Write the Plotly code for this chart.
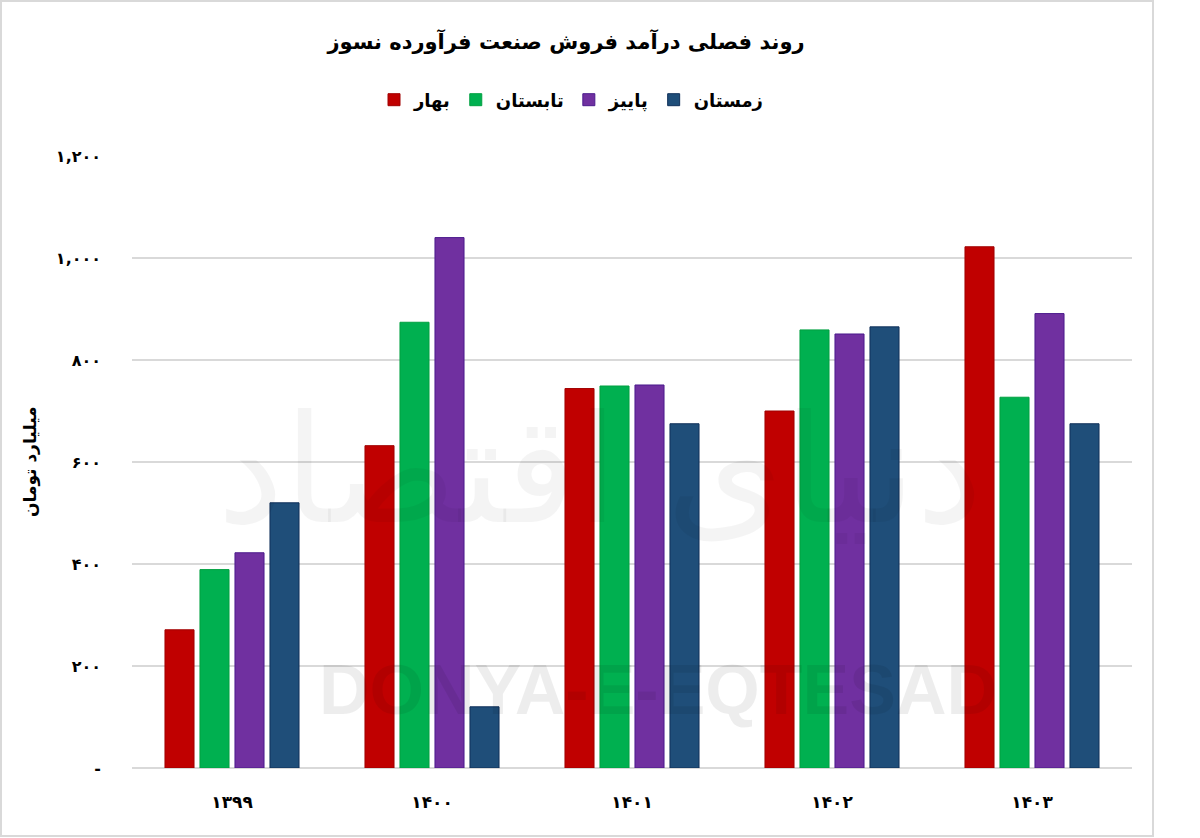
import plotly.graph_objects as go

# ---- data ----
categories = ["۱۳۹۹", "۱۴۰۰", "۱۴۰۱", "۱۴۰۲", "۱۴۰۳"]
spring = [271, 632, 744, 700, 1022]   # بهار
summer = [389, 874, 749, 859, 727]    # تابستان
autumn = [422, 1040, 751, 851, 891]   # پاییز
winter = [520, 120, 675, 865, 675]    # زمستان
series_names = ["بهار", "تابستان", "پاییز", "زمستان"]
tick_vals = [0, 200, 400, 600, 800, 1000, 1200]
tick_text = ["-", "۲۰۰", "۴۰۰", "۶۰۰", "۸۰۰", "۱,۰۰۰", "۱,۲۰۰"]

title_text = "روند فصلی درآمد فروش صنعت فرآورده نسوز"
y_title = "میلیارد تومان"

colors = ["#C00000", "#00B050", "#7030A0", "#1F4E79"]
edge = ["#A00000", "#00A040", "#4B1A8C", "#10305A"]

FONT = "DejaVu Sans"

fig = go.Figure()
for name, vals, c, e in zip(series_names, [spring, summer, autumn, winter], colors, edge):
    fig.add_trace(go.Bar(
        x=categories, y=vals, name=name,
        marker=dict(color=c, line=dict(color=e, width=1)),
    ))

ML, MR, MT, MB = 132, 68, 156, 70
W, H = 1200, 838
pw, ph = W - ML - MR, H - MT - MB

def px_to_paper_x(px):
    return (px - ML) / pw

def px_to_paper_y(py):
    return (H - MB - py) / ph

fig.update_layout(
    width=W, height=H,
    margin=dict(l=ML, r=MR, t=MT, b=MB),
    paper_bgcolor="white", plot_bgcolor="white",
    barmode="group", bargap=0.3, bargroupgap=0.17,
    font=dict(family=FONT, color="#000000"),
    title=dict(text="<b>" + title_text + "</b>", x=566 / W, xanchor="center",
               xref="container",
               y=1 - 42 / H, yanchor="middle", yref="container",
               font=dict(size=21, family=FONT, color="#000")),
    legend=dict(orientation="h", x=571 / W, xanchor="center", xref="container",
                y=1 - 100 / H, yanchor="middle", yref="container",
                font=dict(size=18, family=FONT, color="#000", weight="bold"),
                itemwidth=30, traceorder="normal"),
    showlegend=True,
    xaxis=dict(showgrid=False, showline=False, zeroline=False,
               tickfont=dict(size=17, family=FONT, color="#000", weight="bold"),
               ticklabelstandoff=22, ticks=""),
    yaxis=dict(range=[0, 1200], tickvals=tick_vals, ticktext=tick_text,
               showgrid=True, gridcolor="#D9D9D9", gridwidth=2,
               zeroline=True, zerolinecolor="#D9D9D9", zerolinewidth=2,
               showline=False, ticks="",
               tickfont=dict(size=16, family=FONT, color="#000", weight="bold"),
               ticklabelstandoff=30),
)

# y-axis title
fig.add_annotation(text="<b>" + y_title + "</b>", xref="paper", yref="paper",
                   x=px_to_paper_x(30), y=px_to_paper_y(462), textangle=-90,
                   showarrow=False, font=dict(size=17, family=FONT, color="#000"),
                   xanchor="center", yanchor="middle")

# watermark
fig.add_annotation(text="<b>DONYA-E-EQTESAD</b>", xref="paper", yref="paper",
                   x=px_to_paper_x(658), y=px_to_paper_y(690), showarrow=False,
                   font=dict(size=70, family="Liberation Sans", color="rgba(0,0,0,0.07)"),
                   xanchor="center", yanchor="middle")
fig.add_annotation(text="دنیای اقتصاد", xref="paper", yref="paper",
                   x=px_to_paper_x(600), y=px_to_paper_y(470), showarrow=False,
                   font=dict(size=150, family=FONT, color="rgba(0,0,0,0.045)"),
                   xanchor="center", yanchor="middle")

# outer border
fig.add_shape(type="rect", xref="paper", yref="paper",
              x0=px_to_paper_x(1), x1=px_to_paper_x(1153),
              y0=px_to_paper_y(836), y1=px_to_paper_y(1),
              line=dict(color="#D9D9D9", width=2), fillcolor="rgba(0,0,0,0)",
              layer="below")

fig.write_html("out.html")
